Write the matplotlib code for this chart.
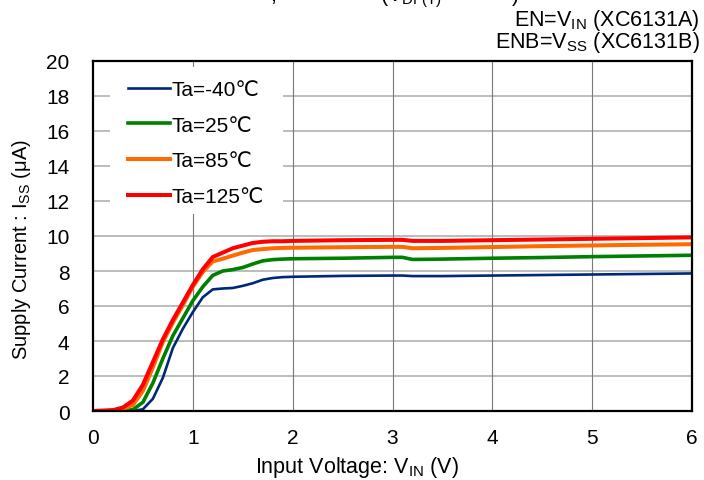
import matplotlib
matplotlib.use("Agg")
import matplotlib.pyplot as plt
from matplotlib.patches import Rectangle

plt.rcParams['font.family'] = ['Liberation Sans', 'DejaVu Sans', 'Noto Sans CJK JP']
plt.rcParams['mathtext.fontset'] = 'custom'
plt.rcParams['mathtext.rm'] = 'Liberation Sans'
plt.rcParams['mathtext.it'] = 'Liberation Sans'

vin = [0, 0.1, 0.2, 0.3, 0.4, 0.5, 0.6, 0.7, 0.8, 0.9, 1.0, 1.1, 1.2, 1.3, 1.4,
       1.5, 1.6, 1.7, 1.8, 1.9, 2.0, 2.5, 3.0, 3.1, 3.2, 3.5, 4.0, 4.5, 5.0, 5.5, 6.0]

iss_m40 = [0, 0, 0, 0, 0, 0.1, 0.7, 1.9, 3.6, 4.7, 5.65, 6.5, 6.95, 7.0, 7.03,
           7.15, 7.3, 7.5, 7.6, 7.65, 7.67, 7.72, 7.74, 7.74, 7.71, 7.71, 7.74, 7.77, 7.8, 7.83, 7.86]
iss_25 = [0, 0, 0, 0.02, 0.08, 0.5, 1.6, 3.0, 4.3, 5.3, 6.3, 7.1, 7.75, 8.0, 8.08,
          8.2, 8.4, 8.58, 8.65, 8.68, 8.7, 8.73, 8.78, 8.78, 8.66, 8.68, 8.73, 8.77, 8.82, 8.86, 8.9]
iss_85 = [0, 0.01, 0.03, 0.1, 0.35, 1.15, 2.5, 3.95, 5.05, 6.05, 7.1, 7.95, 8.55, 8.7, 8.88,
          9.05, 9.2, 9.25, 9.3, 9.32, 9.33, 9.36, 9.38, 9.38, 9.3, 9.32, 9.37, 9.42, 9.46, 9.5, 9.53]
iss_125 = [0, 0.02, 0.05, 0.2, 0.6, 1.5, 2.8, 4.1, 5.2, 6.2, 7.2, 8.1, 8.8, 9.05, 9.3,
           9.45, 9.6, 9.67, 9.7, 9.7, 9.72, 9.76, 9.78, 9.78, 9.72, 9.72, 9.76, 9.8, 9.84, 9.88, 9.92]

labels = ['Ta=-40\u2103', 'Ta=25\u2103', 'Ta=85\u2103', 'Ta=125\u2103']
series = [iss_m40, iss_25, iss_85, iss_125]
colors = ['#00287a', '#008000', '#ff6a00', '#ff0000']
widths = [1.9, 2.6, 2.9, 2.9]

xticks = [0, 1, 2, 3, 4, 5, 6]
yticks = [0, 2, 4, 6, 8, 10, 12, 14, 16, 18, 20]

fig = plt.figure(figsize=(7.04, 4.81), dpi=100)
ax = fig.add_axes([93/704, 1-412/481, 599/704, 350/481])

ax.set_xlim(0, 6)
ax.set_ylim(0, 20)
ax.set_xticks(xticks)
ax.set_yticks(yticks)
ax.tick_params(axis='both', length=0, labelsize=15)
ax.tick_params(axis='x', pad=12)
ax.tick_params(axis='y', pad=17)

for y in yticks[1:-1]:
    ax.axhline(y, color='#b0b0b0', lw=1.2, zorder=1)
for x in xticks[1:-1]:
    ax.axvline(x, color='#7a7a7a', lw=0.8, zorder=1)

ax.add_patch(Rectangle(((110-93)/599*6, (412-215)/350*20), (283-110)/599*6, (215-68)/350*20,
                       facecolor='white', edgecolor='none', zorder=2))

handles = []
for s, lab, c, w in zip(series, labels, colors, widths):
    h, = ax.plot(vin, s, color=c, lw=w, label=lab, zorder=3, solid_joinstyle='round')
    handles.append(h)

leg = ax.legend(handles=handles, loc='upper left', bbox_to_anchor=((128-93)/599, (412-81)/350),
                frameon=False, fontsize=15, handlelength=2.0, handletextpad=0.1,
                labelspacing=0.8, borderaxespad=0, borderpad=0)

for sp in ax.spines.values():
    sp.set_color('black')
    sp.set_linewidth(1.6)
    sp.set_zorder(4)

ax.set_xlabel('Input Voltage: V$_{\\mathrm{IN}}$ (V)', fontsize=15.5)
ax.xaxis.set_label_coords((357-93)/599, -(455-412)/350)
ax.xaxis.label.set_va('top')
ax.set_ylabel('Supply Current : I$_{\\mathrm{SS}}$ (\u03bcA)', fontsize=14.5)
ax.yaxis.set_label_coords(-(93-10)/599, (412-250)/350)
ax.yaxis.label.set_va('top')

fig.text(700/704, 1-48/481, 'EN=V$_{\\mathrm{IN}}$ (XC6131A)\nENB=V$_{\\mathrm{SS}}$ (XC6131B)',
         ha='right', va='baseline', multialignment='right', fontsize=15.5, linespacing=0.82)

# top line of the header, cut off by the image edge
fig.text(270/704, 1-1/481, ',', ha='left', va='baseline', fontsize=15.5)
fig.text(380/704, 1-1/481, '(V$_{\\mathrm{DF(T)}}$', ha='left', va='baseline', fontsize=15.5)
fig.text(512/704, 1-1/481, ')', ha='left', va='baseline', fontsize=15.5)

fig.savefig('out.png', dpi=100)
